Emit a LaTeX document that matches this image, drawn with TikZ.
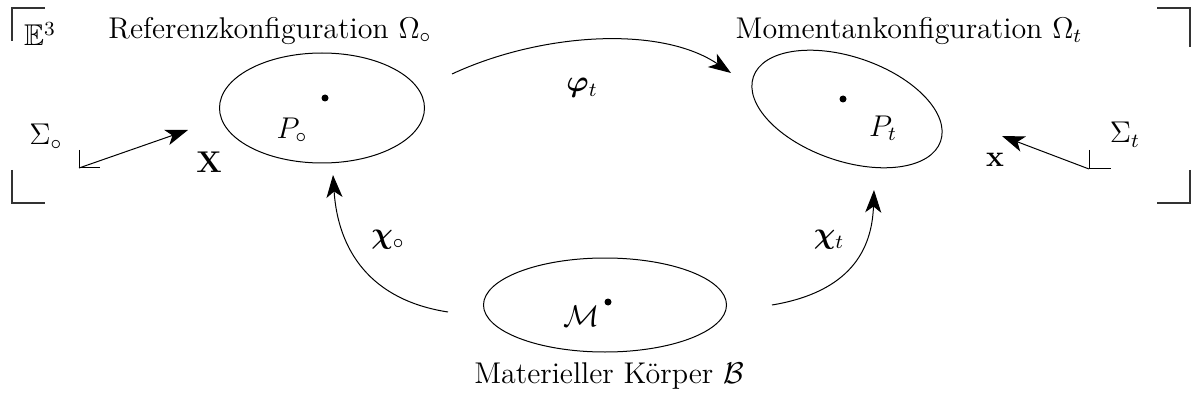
\documentclass[tikz,border=0pt]{standalone}
\usepackage{amsmath,amssymb,bm}
\usetikzlibrary{shapes.geometric,arrows.meta}
\tikzset{
  body/.style={draw, ellipse, line width=0.4pt, inner sep=0pt},
  conn/.style={line width=0.4pt, -{Stealth[length=9pt,width=6.4pt,inset=2.4pt]}},
  pt/.style={fill, circle, inner sep=0pt, minimum size=2.8pt},
  lab/.style={inner sep=0pt, font=\large},
  frame/.style={line width=0.5pt, draw=black!80}
}
\begin{document}
\begin{tikzpicture}[x=0.4pt,y=-0.4pt]
\useasboundingbox (0,0) rectangle (1193,399);
% corner marks
\draw[frame] (12,41) -- (12,8) -- (45,8);
\draw[frame] (12,170) -- (12,203) -- (45,203);
\draw[frame] (1157,8) -- (1190,8) -- (1190,47);
\draw[frame] (1190,170) -- (1190,203) -- (1157,203);
\node[lab] (E) at (40,34) {$\mathbb{E}^3$};
\node[lab] (reflab) at (270,31) {Referenzkonfiguration $\Omega_\circ$};
\node[lab] (momlab) at (909,31) {Momentankonfiguration $\Omega_t$};
% ellipses
\node[body, minimum width=205*0.4pt, minimum height=110*0.4pt] (ref) at (322,108) {};
\node[body, minimum width=198*0.4pt, minimum height=104*0.4pt, rotate=-19] (mom) at (847,109) {};
\node[body, minimum width=243*0.4pt, minimum height=94*0.4pt] (mat) at (605,305) {};
% points
\node[pt] (P0) at (325,98) {};
\node[pt] (Pt) at (843,99) {};
\node[pt] (Mp) at (608,302) {};
\node[lab] (P0lab) at (292,130) {$P_\circ$};
\node[lab] (Ptlab) at (883,128) {$P_t$};
\node[lab] (Mlab) at (582,316) {$\mathcal{M}$};
\node[lab] (matlab) at (609,376) {Materieller K\"orper $\mathcal{B}$};
% coordinate systems
\coordinate (S0) at (79,168);
\draw[line width=0.4pt] (79,150) -- (S0) -- (100,168);
\node[lab] (S0lab) at (46,137) {$\Sigma_\circ$};
\coordinate (X) at (188,130);
\draw[conn] (S0) -- (X);
\node[lab] (Xlab) at (209,162) {$\mathbf{X}$};
\coordinate (St) at (1089,169);
\draw[line width=0.4pt] (1089,150) -- (St) -- (1111,169);
\node[lab] (Stlab) at (1125,135) {$\Sigma_t$};
\coordinate (x) at (1002,136);
\draw[conn] (St) -- (x);
\node[lab] (xlab) at (995,160) {$\mathbf{x}$};
% maps
\coordinate (phiA) at (452,74);
\coordinate (phiB) at (731,73);
\draw[conn] (phiA) .. controls (540,33) and (660,25) .. (phiB);
\node[lab] (philab) at (582,88) {$\bm{\varphi}_t$};
\coordinate (c0A) at (448,312);
\coordinate (c0B) at (333,175);
\draw[conn] (c0A) .. controls (370,300) and (338,250) .. (c0B);
\node[lab] (c0lab) at (388,240) {$\bm{\chi}_\circ$};
\coordinate (ctA) at (772,305);
\coordinate (ctB) at (874,190);
\draw[conn] (ctA) .. controls (850,292) and (872,250) .. (ctB);
\node[lab] (ctlab) at (829,240) {$\bm{\chi}_t$};
\end{tikzpicture}
\end{document}
